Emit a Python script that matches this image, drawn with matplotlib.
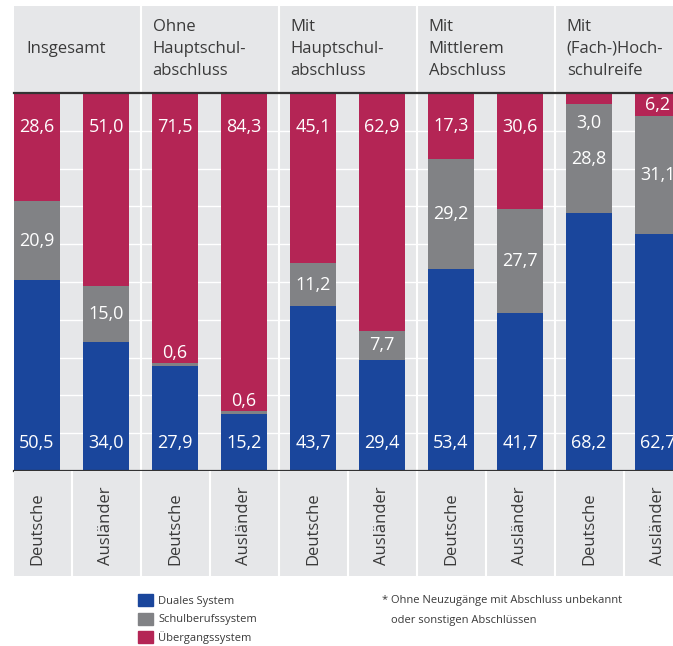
import numpy as np
import matplotlib
matplotlib.use("Agg")
import matplotlib.pyplot as plt
from matplotlib.patches import Patch

plt.rcParams['font.family'] = ['Open Sans', 'DejaVu Sans']

groups = ["Insgesamt", "Ohne\nHauptschul-\nabschluss", "Mit\nHauptschul-\nabschluss",
          "Mit\nMittlerem\nAbschluss", "Mit\n(Fach-)Hoch-\nschulreife"]
bar_labels = ["Deutsche", "Ausländer"] * 5
duales = [50.5, 34.0, 27.9, 15.2, 43.7, 29.4, 53.4, 41.7, 68.2, 62.7]
schul = [20.9, 15.0, 0.6, 0.6, 11.2, 7.7, 29.2, 27.7, 28.8, 31.1]
uebergang = [28.6, 51.0, 71.5, 84.3, 45.1, 62.9, 17.3, 30.6, 3.0, 6.2]
series_names = ["Duales System", "Schulberufssystem", "Übergangssystem"]

c_blue = "#1a469c"
c_gray = "#818285"
c_red = "#b42555"
c_bg = "#e6e7e9"
c_text = "#3a3a3a"

W, H = 673, 646
fig = plt.figure(figsize=(W / 100, H / 100), dpi=100)

def px_axes(top, bottom):
    return fig.add_axes([14 / W, 1 - bottom / H, 1 - 14 / W, (bottom - top) / H])

ax_head = px_axes(6, 93)
ax = px_axes(93, 471)
ax_lab = px_axes(471, 576)

x = np.arange(len(duales))
bw = 46 / 69
xlim = (-bw / 2, (673 - 37) / 69)

for a in (ax_head, ax, ax_lab):
    a.set_facecolor(c_bg)
    a.set_xlim(*xlim)
    a.set_xticks([])
    a.set_yticks([])
    for s in a.spines.values():
        s.set_visible(False)

# main bars
ax.set_ylim(0, 100)
for yy in range(10, 100, 10):
    ax.axhline(yy, color="white", lw=1, zorder=0)
for xs in [1.5, 3.5, 5.5, 7.5]:
    ax.axvline(xs, color="white", lw=1.5, zorder=0)

duales = np.array(duales)
schul = np.array(schul)
uebergang = np.array(uebergang)
ax.bar(x, duales, bw, color=c_blue, zorder=2)
ax.bar(x, schul, bw, bottom=duales, color=c_gray, zorder=2)
ax.bar(x, uebergang, bw, bottom=duales + schul, color=c_red, zorder=2)

fmt = lambda v: f"{v:.1f}".replace(".", ",")
kw = dict(color="white", fontsize=13, ha="center", zorder=3)
for i in x:
    ax.text(i, 7.4, fmt(duales[i]), va="center", **kw)
    top_g = duales[i] + schul[i]
    if schul[i] < 2:
        ax.text(i, top_g + 0.3, fmt(schul[i]), va="bottom", **kw)
    else:
        ax.text(i, duales[i] + schul[i] / 2, fmt(schul[i]), va="center", **kw)
    if uebergang[i] < 5:
        ax.text(i, top_g - 2.5, fmt(uebergang[i]), va="top", **kw)
    else:
        ax.text(i, max(91, top_g + uebergang[i] / 2), fmt(uebergang[i]), va="center", **kw)

for side in ("top", "bottom"):
    ax.spines[side].set_visible(True)
    ax.spines[side].set_color("#333333")
    ax.spines[side].set_linewidth(1.6)
    ax.spines[side].set_zorder(5)

# header
ax_head.set_ylim(0, 1)
for xs in [1.5, 3.5, 5.5, 7.5]:
    ax_head.axvline(xs, color="white", lw=1.5)
head_x = [-0.15] + [2 * g - bw / 2 + 0.01 for g in range(1, 5)]
for g, name in enumerate(groups):
    ax_head.text(head_x[g], 0.51, name, ha="left", va="center", fontsize=12,
                 color=c_text, linespacing=1.5)

# bar labels
ax_lab.set_ylim(0, 1)
for xs in np.arange(0.5, 9, 1):
    ax_lab.axvline(xs, color="white", lw=1.5)
for i in x:
    ax_lab.text(i, 0.105, bar_labels[i], rotation=90, ha="center", va="bottom",
                fontsize=12, color=c_text)

# legend
handles = [Patch(color=c) for c in (c_blue, c_gray, c_red)]
fig.legend(handles, series_names, loc="upper left", bbox_to_anchor=(138 / W, 1 - 594 / H),
           frameon=False, fontsize=8, handlelength=1.35, handleheight=1.35,
           labelspacing=0.5, handletextpad=0.45, borderpad=0, borderaxespad=0,
           labelcolor=c_text)

fig.text(382 / W, 1 - 601 / H, "* Ohne Neuzugänge mit Abschluss unbekannt",
         fontsize=8, color=c_text, va="center")
fig.text(391 / W, 1 - 621 / H, "oder sonstigen Abschlüssen",
         fontsize=8, color=c_text, va="center")

plt.savefig("out.png", dpi=100)
